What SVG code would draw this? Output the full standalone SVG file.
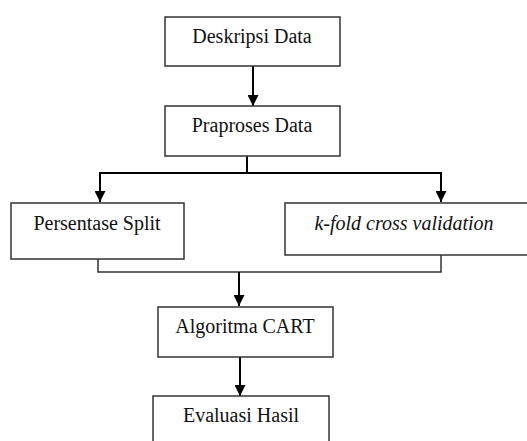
<svg xmlns="http://www.w3.org/2000/svg" width="527" height="441" viewBox="0 0 527 441">
<defs>
<marker id="ah" markerUnits="userSpaceOnUse" markerWidth="12" markerHeight="11" refX="11" refY="5.5" orient="auto">
<path d="M0,0 L11,5.5 L0,11 z" fill="#000"/>
</marker>
<style>
.box{fill:#fff;stroke:#333;stroke-width:1.5}
.t{font-family:"Liberation Serif","Times New Roman",serif;font-size:20px;fill:#111;text-anchor:middle}
.i{font-style:italic}
.c{fill:none;stroke:#000;stroke-width:2}
.c2{fill:none;stroke:#333;stroke-width:1.5}
</style>
</defs>
<rect width="527" height="441" fill="#fff"/>
<g id="connectors">
<line class="c" x1="253" y1="66" x2="253" y2="106" marker-end="url(#ah)"/>
<polyline class="c" points="247,156 247,173 100,173 100,202" marker-end="url(#ah)"/>
<polyline class="c" points="247,173 441,173 441,202" marker-end="url(#ah)"/>
<polyline class="c2" points="98,259 98,272 441,272 441,255"/>
<polyline class="c" points="239,272 239,306" marker-end="url(#ah)"/>
<line class="c" x1="240" y1="357" x2="240" y2="396" marker-end="url(#ah)"/>
</g>
<g id="n1"><rect class="box" x="165" y="17" width="175" height="49"/><text class="t" x="252" y="43">Deskripsi Data</text></g>
<g id="n2"><rect class="box" x="165" y="106" width="175" height="50"/><text class="t" x="252" y="132">Praproses Data</text></g>
<g id="n3"><rect class="box" x="11" y="203" width="173" height="56"/><text class="t" x="97" y="230">Persentase Split</text></g>
<g id="n4"><rect class="box" x="285" y="203" width="250" height="52"/><text class="t i" x="404" y="230">k-fold cross validation</text></g>
<g id="n5"><rect class="box" x="158" y="307" width="175" height="50"/><text class="t" x="245" y="333">Algoritma CART</text></g>
<g id="n6"><rect class="box" x="153" y="396" width="176" height="60"/><text class="t" x="241" y="422">Evaluasi Hasil</text></g>
</svg>
